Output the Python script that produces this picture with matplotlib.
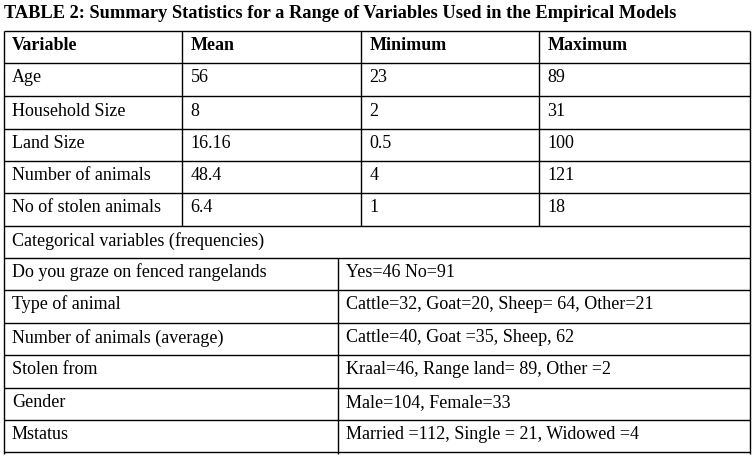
import matplotlib
matplotlib.use("Agg")
import matplotlib.pyplot as plt

title = "TABLE 2: Summary Statistics for a Range of Variables Used in the Empirical Models"
header = ["Variable", "Mean", "Minimum", "Maximum"]
variables = ["Age", "Household Size", "Land Size", "Number of animals", "No of stolen animals"]
means = ["56", "8", "16.16", "48.4", "6.4"]
minimums = ["23", "2", "0.5", "4", "1"]
maximums = ["89", "31", "100", "121", "18"]
section_label = "Categorical variables (frequencies)"
cat_names = ["Do you graze on fenced rangelands", "Type of animal", "Number of animals (average)",
             "Stolen from", "Gender", "Mstatus"]
cat_values = ["Yes=46 No=91", "Cattle=32, Goat=20, Sheep= 64, Other=21", "Cattle=40, Goat =35, Sheep, 62",
              "Kraal=46, Range land= 89, Other =2", "Male=104, Female=33",
              "Married =112, Single = 21, Widowed =4"]

W, H = 752, 464
fig = plt.figure(figsize=(W / 100, H / 100), dpi=100)
ax = fig.add_axes([0, 0, 1, 1])
ax.set_xlim(0, W)
ax.set_ylim(H, 0)
ax.axis("off")

FONT = "Liberation Serif"
FS = 13.0
lw = 1.0

# layout
left, right = 3.5, 749.5
col_x = [left, 182, 361, 539, right]
cat_x = [left, 338, right]
top_rows = [32, 64, 97, 130, 162, 194, 227]
cat_rows = [227, 259, 291, 324, 356, 389, 421, 453]
bottom = 455
pad = 8.5
base_off = 18.5

ax.text(4, 17.5, title, fontsize=13.2, fontweight="bold", family=FONT, va="baseline", ha="left")

def hline(y, x0=left, x1=right):
    ax.plot([x0, x1], [y, y], color="black", lw=lw, solid_capstyle="butt")

def vline(x, y0, y1):
    ax.plot([x, x], [y0, y1], color="black", lw=lw, solid_capstyle="butt")

for y in top_rows + cat_rows[1:]:
    hline(y)
vline(left, top_rows[0], bottom)
vline(right, top_rows[0], bottom)
for x in col_x[1:-1]:
    vline(x, top_rows[0], top_rows[-1])
vline(cat_x[1], cat_rows[1], bottom)

# header
for j, h in enumerate(header):
    ax.text(col_x[j] + pad, top_rows[0] + base_off, h, fontsize=FS, fontweight="bold",
            family=FONT, va="baseline", ha="left")

cols = [variables, means, minimums, maximums]
for i in range(len(variables)):
    for j, col in enumerate(cols):
        ax.text(col_x[j] + pad, top_rows[i + 1] + base_off, col[i], fontsize=FS,
                family=FONT, va="baseline", ha="left")

ax.text(left + pad, cat_rows[0] + base_off, section_label, fontsize=FS, family=FONT,
        va="baseline", ha="left")

for i in range(len(cat_names)):
    ax.text(cat_x[0] + pad, cat_rows[i + 1] + base_off, cat_names[i], fontsize=FS,
            family=FONT, va="baseline", ha="left")
    ax.text(cat_x[1] + pad, cat_rows[i + 1] + base_off, cat_values[i], fontsize=FS,
            family=FONT, va="baseline", ha="left")

fig.savefig("out.png", dpi=100, facecolor="white")
